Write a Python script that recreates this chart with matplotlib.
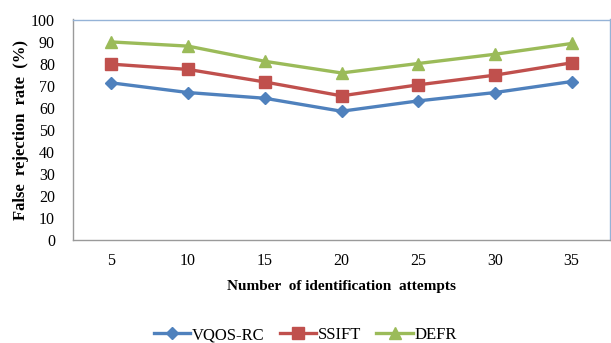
import matplotlib
matplotlib.use("Agg")
import matplotlib.pyplot as plt

attempts = ["5", "10", "15", "20", "25", "30", "35"]
vqos_rc = [71.2, 66.8, 64.2, 58.3, 63.0, 66.8, 71.8]
ssift = [79.7, 77.3, 71.6, 65.3, 70.3, 74.7, 80.3]
defr = [89.8, 87.9, 81.0, 75.7, 80.0, 84.2, 89.1]
yticks = list(range(0, 101, 10))

plt.rcParams['font.family'] = ['Liberation Serif', 'DejaVu Serif']

fig = plt.figure(figsize=(6.11, 3.43), dpi=100)
ax = fig.add_axes([73/611, 1 - 239.5/343, 537/611, 220/343])

x = list(range(len(attempts)))
ax.plot(x, vqos_rc, color='#4F81BD', lw=2.4, marker='D', ms=6.5, label='VQOS-RC')
ax.plot(x, ssift, color='#C0504D', lw=2.4, marker='s', ms=8, label='SSIFT')
ax.plot(x, defr, color='#9BBB59', lw=2.4, marker='^', ms=9, label='DEFR')

ax.set_xlim(-0.5, len(attempts) - 0.5)
ax.set_ylim(0, 100)
ax.set_xticks(x)
ax.set_xticklabels(attempts)
ax.set_yticks(yticks)
ax.tick_params(axis='both', length=0, labelsize=11.5)
ax.tick_params(axis='y', pad=13)
ax.tick_params(axis='x', pad=10)
for s in ['top', 'right']:
    ax.spines[s].set_color('#95B3D7')
for s in ['left', 'bottom']:
    ax.spines[s].set_color('#9A9A9A')
for s in ax.spines.values():
    s.set_linewidth(1.0)

ax.set_xlabel('Number  of identification  attempts', fontsize=11, fontweight='bold')
ax.set_ylabel('False  rejection  rate  (%)', fontsize=12, fontweight='bold')
ax.yaxis.set_label_coords(-0.097, 0.5)
ax.xaxis.set_label_coords(0.5, -0.215)
ax.xaxis.label.set_va('center')
ax.yaxis.label.set_va('center')

fig.legend(loc='center', bbox_to_anchor=(0.5, 1 - 335/343), ncol=3, frameon=False,
           fontsize=12, handlelength=2.2, columnspacing=0.9, handletextpad=0.1)

fig.savefig('out.png', dpi=100)
